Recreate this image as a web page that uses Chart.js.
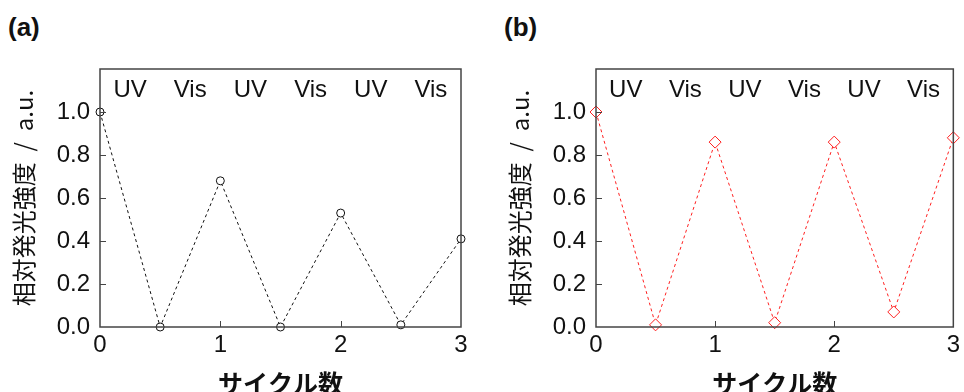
<!DOCTYPE html>
<html>
<head>
<meta charset="utf-8">
<script src="https://cdn.jsdelivr.net/npm/chart.js@4.4.1/dist/chart.umd.min.js"></script>
<style>
  html, body { margin: 0; padding: 0; background: #fff; }
  body { width: 964px; height: 392px; position: relative; overflow: hidden; }
  .panel { position: absolute; top: 0; height: 392px; }
  .tag { position: absolute; top: 12px; font: bold 26px "Liberation Sans", Arial, sans-serif; color: #111; }
</style>
</head>
<body>
<div class="tag" style="left:8px">(a)</div>
<div class="tag" style="left:504px">(b)</div>
<div class="panel" style="left:0; width:482px"><canvas id="chartA"></canvas></div>
<div class="panel" style="left:496px; width:468px"><canvas id="chartB"></canvas></div>
<script>
const cycles = [0, 0.5, 1, 1.5, 2, 2.5, 3]
const intensityA = [1.0, 0.0, 0.68, 0.0, 0.53, 0.01, 0.41]
const intensityB = [1.0, 0.01, 0.86, 0.02, 0.86, 0.07, 0.88]
const phaseLabels = ["UV", "Vis", "UV", "Vis", "UV", "Vis"]
const phasePositions = [0.25, 0.75, 1.25, 1.75, 2.25, 2.75]
const xTicks = [0, 1, 2, 3]
const yTicks = [0, 0.2, 0.4, 0.6, 0.8, 1.0]

const latin = "'Liberation Sans', Arial, 'Noto Sans CJK JP', sans-serif"
const jp = "'Noto Sans CJK JP', 'Liberation Sans', sans-serif"
const axisColor = "#444"

// box, inward ticks and the UV / Vis labels
const framePlugin = {
  id: "frame",
  afterDatasetsDraw(chart) {
    const { ctx, chartArea: a, scales: { x, y } } = chart
    ctx.save()
    ctx.strokeStyle = axisColor
    ctx.lineWidth = 1.5
    ctx.strokeRect(a.left, a.top, a.right - a.left, a.bottom - a.top)
    ctx.lineWidth = 1
    ctx.beginPath()
    yTicks.slice(1).forEach(v => {
      const py = Math.round(y.getPixelForValue(v)) + 0.5
      ctx.moveTo(a.left, py)
      ctx.lineTo(a.left + 6, py)
    })
    xTicks.slice(1, -1).forEach(v => {
      const px = Math.round(x.getPixelForValue(v)) + 0.5
      ctx.moveTo(px, a.bottom)
      ctx.lineTo(px, a.bottom - 6)
    })
    ctx.stroke()
    ctx.fillStyle = "#111"
    ctx.font = "24px " + latin
    ctx.textAlign = "center"
    ctx.textBaseline = "middle"
    phaseLabels.forEach((t, i) => {
      ctx.fillText(t, x.getPixelForValue(phasePositions[i]), y.getPixelForValue(1.1))
    })
    ctx.restore()
  }
}

function makeChart(id, values, color, pointStyle, radius, rightPad) {
  return new Chart(document.getElementById(id), {
    type: "line",
    data: {
      datasets: [{
        data: cycles.map((c, i) => ({ x: c, y: values[i] })),
        borderColor: color,
        borderWidth: 1,
        borderDash: [3, 3],
        backgroundColor: "#fff",
        pointStyle: pointStyle,
        pointRadius: radius,
        pointBorderColor: color,
        pointBackgroundColor: "#fff",
        pointBorderWidth: 1,
        tension: 0,
        clip: false
      }]
    },
    options: {
      responsive: true,
      maintainAspectRatio: false,
      animation: false,
      layout: { padding: { top: 69, right: rightPad, left: 0, bottom: 0 } },
      plugins: { legend: { display: false }, tooltip: { enabled: false } },
      scales: {
        x: {
          type: "linear",
          min: 0,
          max: 3,
          afterBuildTicks: s => { s.ticks = xTicks.map(v => ({ value: v })) },
          afterFit: s => { s.height = 65 },
          grid: { display: false, drawTicks: false },
          border: { display: false },
          ticks: { color: "#111", padding: 4, font: { size: 24, family: latin } },
          title: {
            display: true,
            text: "サイクル数",
            color: "#111",
            padding: 0,
            font: { size: 25, weight: "bold", family: jp, lineHeight: 0.7 }
          }
        },
        y: {
          min: 0,
          max: 1.2,
          afterBuildTicks: s => { s.ticks = yTicks.map(v => ({ value: v })) },
          afterFit: s => { s.width = 100 },
          grid: { display: false, drawTicks: false },
          border: { display: false },
          ticks: {
            color: "#111",
            padding: 10,
            font: { size: 24, family: latin },
            callback: v => v.toFixed(1)
          },
          title: {
            display: true,
            text: "相対発光強度  /  a.u.",
            color: "#111",
            padding: { top: 12, bottom: 0 },
            font: { size: 24, family: jp, lineHeight: 1 }
          }
        }
      }
    },
    plugins: [framePlugin]
  })
}

makeChart("chartA", intensityA, "#111", "circle", 4, 21)
makeChart("chartB", intensityB, "#ff2020", "rectRot", 6, 7)
</script>
</body>
</html>
